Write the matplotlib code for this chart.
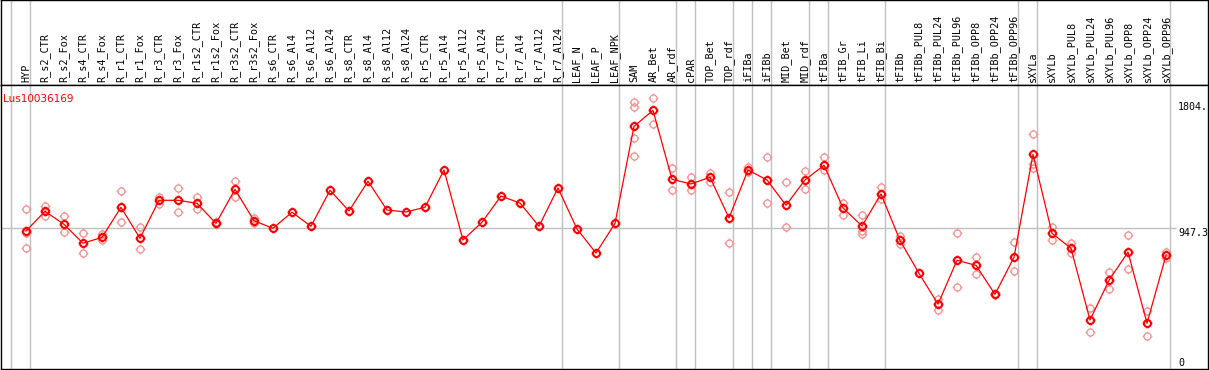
import matplotlib
matplotlib.use("Agg")
import matplotlib.pyplot as plt
from matplotlib.path import Path

# --- data ---
labels = ["HYP", "R_s2_CTR", "R_s2_Fox", "R_s4_CTR", "R_s4_Fox", "R_r1_CTR", "R_r1_Fox",
          "R_r3_CTR", "R_r3_Fox", "R_r1s2_CTR", "R_r1s2_Fox", "R_r3s2_CTR", "R_r3s2_Fox",
          "R_s6_CTR", "R_s6_Al4", "R_s6_Al12", "R_s6_Al24", "R_s8_CTR", "R_s8_Al4",
          "R_s8_Al12", "R_s8_Al24", "R_r5_CTR", "R_r5_Al4", "R_r5_Al12", "R_r5_Al24",
          "R_r7_CTR", "R_r7_Al4", "R_r7_Al12", "R_r7_Al24", "LEAF_N", "LEAF_P", "LEAF_NPK",
          "SAM", "AR_Bet", "AR_rdf", "cPAR", "TOP_Bet", "TOP_rdf", "iFIBa", "iFIBb",
          "MID_Bet", "MID_rdf", "tFIBa", "tFIB_Gr", "tFIB_Li", "tFIB_Bi", "tFIBb",
          "tFIBb_PUL8", "tFIBb_PUL24", "tFIBb_PUL96", "tFIBb_OPP8", "tFIBb_OPP24",
          "tFIBb_OPP96", "sXYLa", "sXYLb", "sXYLb_PUL8", "sXYLb_PUL24", "sXYLb_PUL96",
          "sXYLb_OPP8", "sXYLb_OPP24", "sXYLb_OPP96"]

means = [925, 1069, 974, 836, 879, 1098, 872, 1149, 1149, 1127, 981, 1229, 1000, 945, 1062,
         960, 1222, 1071, 1288, 1078, 1064, 1098, 1370, 860, 989, 1180, 1129, 960, 1239, 940,
         765, 981, 1688, 1804, 1302, 1268, 1317, 1020, 1370, 1297, 1113, 1297, 1404, 1093,
         962, 1195, 857, 617, 393, 712, 675, 464, 734, 1484, 909, 799, 277, 566, 772, 253, 748]

replicates = [
    [1083, 910, 799], [1108, 1035], [1035, 916], [911, 763], [901, 860], [1215, 989],
    [957, 792], [1176, 1122], [1236, 1062], [1176, 1083], [990, 974], [1290, 1171],
    [1018, 981], [], [], [], [], [], [], [], [], [], [], [], [], [], [], [], [], [], [],
    [], [1868, 1827, 1601, 1470], [1895, 1703], [1382, 1227], [1319, 1222], [1350, 1285],
    [1207, 836], [1389, 1353], [1462, 1127], [1280, 952], [1363, 1229], [1462, 1368],
    [1130, 1040], [1040, 925, 901], [1244, 1156], [891, 828], [], [432, 347], [909, 515],
    [736, 610], [470, 458], [843, 632], [1630, 1414, 1385], [955, 862], [838, 763],
    [362, 187], [624, 505], [894, 646], [343, 158], [770, 731],
]

# group separators sit just after these sample indices
group_ends = [-1, 0, 28, 31, 34, 35, 37, 38, 39, 41, 42, 45, 52, 53, 60]
gene = "Lus10036169"
axis_marks = [(1804, "1804.", "baseline"), (947.3, "947.3", "top"), (0, "0", "top")]

# circle marker with four little ticks
ticks = Path([(1, 0), (1.4, 0), (-1, 0), (-1.4, 0), (0, 1), (0, 1.4), (0, -1), (0, -1.4)],
             [Path.MOVETO, Path.LINETO] * 4)
tick_circle = Path.make_compound_path(Path.unit_circle(), ticks)

W, H = 1209, 370
fig = plt.figure(figsize=(W / 100, H / 100), dpi=100)
hx = fig.add_axes([1 / W, (H - 85) / H, 1207 / W, 85 / H])
ax = fig.add_axes([1 / W, 1 / H, 1207 / W, 284 / H])

xlim = ((1 - 26) / 19, (1208 - 26) / 19)
for a in (hx, ax):
    a.set_xlim(*xlim)
    a.set_xticks([])
    a.set_yticks([])
    for s in a.spines.values():
        s.set_color("black")
        s.set_linewidth(1)
    for g in group_ends:
        a.axvline(g + 0.22, color="#c0c0c0", lw=1, zorder=0)
ax.set_ylim(-80, 1989)
hx.set_ylim(0, 1)

x = list(range(len(labels)))
for i, lab in enumerate(labels):
    hx.text(i, 0.03, lab, rotation=90, ha="center", va="bottom",
            fontsize=7.3, family="DejaVu Sans Mono")

ax.hlines(947.3, xlim[0], 60.5, color="#c0c0c0", lw=1, zorder=0)

rx = [i for i, r in enumerate(replicates) for _ in r]
ry = [v for r in replicates for v in r]
ax.plot(rx, ry, ls="none", marker=tick_circle, ms=7, mfc="none", mec="#f09a9a",
        mew=1.0, zorder=2)
ax.plot(x, means, color="red", lw=0.9, marker=tick_circle, ms=7, mfc="none",
        mec="red", mew=1.5, zorder=3)

ax.text(xlim[0] + 0.12, 1890, gene, color="red", fontsize=7.5, va="center", ha="left")
for val, txt, va in axis_marks:
    ax.text((1178 - 26) / 19, val, txt, fontsize=7.2, family="DejaVu Sans Mono",
            ha="left", va=va, clip_on=True)

fig.savefig("out.png", dpi=100)
